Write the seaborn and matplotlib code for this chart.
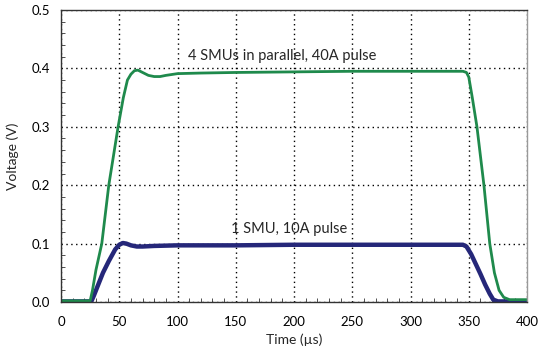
import numpy as np
import pandas as pd
import matplotlib
matplotlib.use("Agg")
import matplotlib.pyplot as plt
from matplotlib.ticker import MultipleLocator
import seaborn as sns

# values (time in us, voltage in V)
t_green = [0, 25, 27, 30, 35, 41, 49, 53.5, 57, 60, 63, 66, 70, 75, 80, 85, 90, 100,
           120, 150, 200, 250, 300, 345, 348, 350, 353, 357, 363, 368, 372, 376, 380, 385, 400]
v_green = [0.002, 0.002, 0.02, 0.055, 0.1, 0.2, 0.3, 0.35, 0.38, 0.39, 0.396, 0.397, 0.393,
           0.388, 0.386, 0.386, 0.388, 0.391, 0.392, 0.393, 0.394, 0.395, 0.395, 0.395,
           0.393, 0.385, 0.35, 0.3, 0.2, 0.1, 0.05, 0.02, 0.008, 0.004, 0.004]

t_blue = [0, 26, 28, 31, 36, 41, 46.5, 50, 53, 56, 60, 65, 70, 80, 100, 150, 200, 250, 300,
          345, 348, 352, 356, 360, 364, 368, 371, 375, 400]
v_blue = [0.001, 0.001, 0.01, 0.025, 0.05, 0.07, 0.09, 0.098, 0.101, 0.1, 0.097, 0.095,
          0.095, 0.096, 0.097, 0.097, 0.098, 0.098, 0.098, 0.098, 0.095, 0.082, 0.065,
          0.048, 0.03, 0.014, 0.004, 0.001, 0.001]

label_green = "4 SMUs in parallel, 40A pulse"
label_blue = "1 SMU, 10A pulse"

green = pd.DataFrame({"t": t_green, "v": v_green})
blue = pd.DataFrame({"t": t_blue, "v": v_blue})

sns.set_style("white")
plt.rcParams["font.family"] = ["Lato", "DejaVu Sans"]

fig = plt.figure(figsize=(5.4, 3.51), dpi=100)
ax = fig.add_axes([0.113, 0.1396, 0.863, 0.832])

sns.lineplot(data=blue, x="t", y="v", color="#252779", linewidth=3.2, ax=ax)
sns.lineplot(data=green, x="t", y="v", color="#1f8a4c", linewidth=2.0, ax=ax)

ax.set_xlim(0, 400)
ax.set_ylim(0, 0.5)
ax.xaxis.set_major_locator(MultipleLocator(50))
ax.xaxis.set_minor_locator(MultipleLocator(10))
ax.yaxis.set_major_locator(MultipleLocator(0.1))
ax.yaxis.set_minor_locator(MultipleLocator(0.02))
ax.yaxis.set_major_formatter(matplotlib.ticker.FormatStrFormatter("%.1f"))
ax.grid(True, which="major", color="black", linestyle=(0, (1, 2.5)), linewidth=1)
ax.tick_params(which="both", direction="in", colors="#333333", labelcolor="black",
               labelsize=9.5)
ax.tick_params(axis="x", pad=10)
ax.tick_params(axis="y", pad=8)
ax.tick_params(which="major", length=4)
ax.tick_params(which="minor", length=3, left=True, bottom=True)
for s in ax.spines.values():
    s.set_color("#333333")
    s.set_linewidth(1)
ax.spines["right"].set_color("#999999")

ax.set_xlabel("Time (µs)", fontsize=10, labelpad=4)
ax.set_ylabel("Voltage (V)", fontsize=10, labelpad=9)

ax.text(190, 0.414, label_green, ha="center", va="baseline", fontsize=10.5)
ax.text(196, 0.118, label_blue, ha="center", va="baseline", fontsize=10.5)

fig.savefig("out.png", dpi=100)
